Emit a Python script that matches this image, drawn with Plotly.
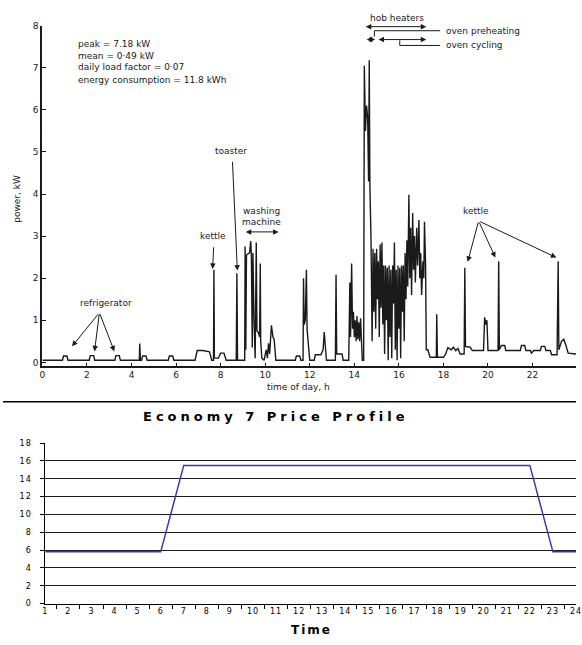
import plotly.graph_objects as go

# ---------------- data: domestic load profile (top) ----------------
load_hours = [0.0, 0.9, 0.95, 1.1, 1.15, 2.1, 2.15, 2.3, 2.35, 3.25, 3.3, 3.45, 3.5,
              4.35, 4.37, 4.4, 4.45, 4.5, 4.65, 4.7, 5.65, 5.7, 5.85, 5.9,
              6.85, 6.95, 7.2, 7.5, 7.6, 7.68, 7.7, 7.72, 7.9, 8.0, 8.15, 8.25, 8.7, 8.73, 8.76,
              9.0, 9.08, 9.1, 9.13, 9.16, 9.3, 9.35, 9.38, 9.42, 9.45, 9.5, 9.55, 9.6, 9.63,
              9.7, 9.75, 9.78, 9.8, 9.85, 9.95, 10.05, 10.1, 10.15, 10.2, 10.28, 10.35, 10.4, 10.48,
              11.35, 11.4, 11.55, 11.6, 11.7, 11.72, 11.75, 11.8, 11.85, 11.88, 11.95, 12.0,
              12.2, 12.25, 12.5, 12.6, 12.65, 12.7, 12.75, 13.15, 13.18, 13.21, 13.45, 13.5,
              13.75, 13.8, 13.83, 13.88, 13.92, 13.96, 14.0, 14.04, 14.08, 14.12, 14.16, 14.2,
              14.24, 14.28, 14.32, 14.36, 14.42, 14.45, 14.5, 14.55, 14.6, 14.64, 14.67, 14.7, 14.75,
              14.8, 14.84, 14.88, 14.92, 14.96, 15.0, 15.04, 15.08, 15.12, 15.16, 15.2, 15.24,
              15.28, 15.32, 15.36, 15.4, 15.44, 15.48, 15.52, 15.56, 15.6, 15.64, 15.68, 15.72,
              15.76, 15.8, 15.84, 15.88, 15.92, 15.96, 16.0, 16.04, 16.08, 16.12, 16.16, 16.2,
              16.24, 16.28, 16.32, 16.36, 16.4, 16.45, 16.49, 16.53, 16.57, 16.62, 16.66, 16.7,
              16.74, 16.8, 16.84, 16.9, 16.94, 16.98, 17.02, 17.08, 17.12, 17.15, 17.2, 17.23,
              17.3, 17.4, 17.68, 17.7, 17.73, 18.0, 18.1, 18.2, 18.35, 18.45, 18.55, 18.65, 18.75,
              18.93, 18.96, 18.99, 19.2, 19.3, 19.8, 19.85, 19.9, 19.95, 20.0, 20.45, 20.48, 20.51,
              20.6, 20.75, 20.8, 21.45, 21.5, 21.65, 21.7, 21.9, 21.95, 22.05, 22.35, 22.4, 22.55,
              22.6, 22.8, 22.85, 23.1, 23.15, 23.18, 23.3, 23.4, 23.5, 23.6, 23.95]
load_kw = [0.05, 0.05, 0.15, 0.15, 0.05, 0.05, 0.16, 0.16, 0.05, 0.05, 0.16, 0.16, 0.05,
           0.05, 0.45, 0.05, 0.05, 0.15, 0.15, 0.05, 0.05, 0.15, 0.15, 0.05,
           0.05, 0.28, 0.28, 0.25, 0.05, 0.05, 2.2, 0.1, 0.1, 0.22, 0.22, 0.05, 0.05, 2.12, 0.05,
           0.05, 0.05, 2.75, 0.3, 2.55, 2.6, 2.88, 2.55, 0.35, 2.6, 1.0, 0.1, 2.85, 0.75,
           0.7, 0.6, 2.35, 0.5, 0.1, 0.05, 0.3, 0.1, 0.45, 0.2, 0.88, 0.6, 0.55, 0.05,
           0.05, 0.15, 0.15, 0.05, 0.05, 2.0, 0.9, 1.0, 2.2, 0.8, 0.35, 0.05,
           0.05, 0.18, 0.18, 0.3, 0.72, 0.3, 0.05, 0.05, 2.08, 0.2, 0.2, 0.05,
           0.05, 1.9, 0.6, 2.35, 0.8, 1.2, 0.6, 1.0, 0.5, 1.1, 0.55, 0.95,
           0.5, 1.05, 0.6, 0.05, 0.05, 7.05, 5.5, 6.1, 5.8, 4.3, 7.18, 4.2, 2.9,
           0.5, 2.7, 1.2, 2.6, 0.8, 2.7, 1.5, 2.4, 0.6, 2.8, 1.3, 2.85,
           0.9, 2.3, 0.2, 2.3, 1.0, 2.25, 0.05, 2.3, 0.6, 2.2, 0.1, 2.3,
           1.4, 2.85, 0.3, 2.2, 0.05, 2.3, 0.8, 2.25, 0.1, 2.3, 1.2, 2.3,
           0.5, 2.6, 1.5, 2.9, 1.8, 3.98, 2.0, 3.2, 1.6, 3.55, 2.2, 3.0,
           1.9, 3.2, 2.3, 3.38, 2.0, 2.6, 1.6, 2.4, 2.0, 3.34, 2.3, 0.3,
           0.3, 0.12, 0.12, 1.14, 0.12, 0.12, 0.2, 0.35, 0.3, 0.36, 0.28, 0.33, 0.2,
           0.2, 2.25, 0.38, 0.36, 0.28, 0.28, 1.07, 0.9, 1.0, 0.28, 0.28, 2.4, 0.3,
           0.4, 0.4, 0.28, 0.28, 0.4, 0.4, 0.28, 0.28, 0.22, 0.28, 0.28, 0.38, 0.38,
           0.28, 0.28, 0.18, 0.18, 2.4, 0.3, 0.5, 0.55, 0.4, 0.22, 0.2]
load_ticks = [0, 2, 4, 6, 8, 10, 12, 14, 16, 18, 20, 22]
power_ticks = [0, 1, 2, 3, 4, 5, 6, 7, 8]

# ---------------- data: Economy 7 price profile (bottom) ----------------
price_hours = [str(h) for h in range(1, 25)]
price_values = [5.8, 5.8, 5.8, 5.8, 5.8, 5.8,
                15.5, 15.5, 15.5, 15.5, 15.5, 15.5, 15.5, 15.5, 15.5, 15.5, 15.5,
                15.5, 15.5, 15.5, 15.5, 15.5,
                5.8, 5.8]
price_ticks = [0, 2, 4, 6, 8, 10, 12, 14, 16, 18]

W, H = 582, 645
def px(x):
    return x / W
def py(y):
    return 1 - y / H

fig = go.Figure()
fig.add_trace(go.Scatter(x=load_hours, y=load_kw, mode="lines",
                         line=dict(color="#1a1a1a", width=1.4),
                         xaxis="x", yaxis="y", showlegend=False, hoverinfo="skip"))
fig.add_trace(go.Scatter(x=price_hours, y=price_values, mode="lines",
                         line=dict(color="#3a3aa2", width=1.5),
                         xaxis="x2", yaxis="y2", showlegend=False))

scan_font = dict(family="DejaVu Sans", size=9, color="#1a1a1a")
xl_font = dict(family="DejaVu Sans", size=8, color="#000000")

wide = lambda s, sp: f'<span style="letter-spacing:{sp}px">{s}</span>'

fig.update_layout(
    width=W, height=H, margin=dict(l=0, r=0, t=0, b=0),
    paper_bgcolor="white", plot_bgcolor="white",
    xaxis=dict(domain=[px(40), 1], range=[0, 23.95], anchor="y",
               tickvals=load_ticks, ticks="inside", ticklen=3, tickcolor="#1a1a1a",
               showline=True, linecolor="#1a1a1a", linewidth=1.5,
               showgrid=False, zeroline=False, tickfont=scan_font),
    yaxis=dict(domain=[py(366.4), py(21)], range=[-0.08, 8], anchor="x",
               tickvals=power_ticks, ticks="inside", ticklen=4, tickcolor="#1a1a1a",
               showline=True, linecolor="#1a1a1a", linewidth=2,
               showgrid=False, zeroline=False, tickfont=scan_font),
    xaxis2=dict(domain=[px(43), 1], type="category", anchor="y2",
                tickvals=price_hours, ticktext=[wide(h, 1) for h in price_hours],
                tickson="boundaries", ticks="outside", ticklen=4, tickcolor="#000",
                showline=True, linecolor="#000", linewidth=1,
                showgrid=False, zeroline=False,
                tickfont=dict(family="DejaVu Sans", size=8, color="#000")),
    yaxis2=dict(domain=[py(608), py(445)], range=[0, 18], anchor="x2",
                tickvals=price_ticks, ticktext=[wide(str(v), 1) for v in price_ticks],
                ticks="outside", ticklen=4, tickcolor="#000",
                showline=True, linecolor="#000", linewidth=1,
                showgrid=True, gridcolor="#1a1a1a", gridwidth=1,
                zeroline=False, ticklabelstandoff=7, tickfont=xl_font),
)

ann = []
def text(x, y, s, xanchor="center", ref="x", yref="y", font=scan_font, angle=0):
    ann.append(dict(x=x, y=y, xref=ref, yref=yref, text=s, showarrow=False,
                    xanchor=xanchor, yanchor="middle", font=font, textangle=angle))

def arrow(x, y, ax, ay, both=False):
    ann.append(dict(x=x, y=y, ax=ax, ay=ay, xref="x", yref="y", axref="x", ayref="y",
                    text="", showarrow=True, arrowhead=2, arrowsize=1.1, arrowwidth=1,
                    arrowcolor="#1a1a1a", arrowside="end+start" if both else "end",
                    standoff=0, startstandoff=0))

# statistics block
text(1.5, 7.57, "peak = 7.18 kW", xanchor="left")
text(1.5, 7.29, "mean = 0·49 kW", xanchor="left")
text(1.5, 7.01, "daily load factor = 0·07", xanchor="left")
text(1.5, 6.72, "energy consumption = 11.8 kWh", xanchor="left")

# appliance labels
text(8.48, 5.02, "toaster")
arrow(8.75, 2.18, 8.53, 4.80)
text(7.64, 3.0, "kettle")
arrow(7.64, 2.22, 7.69, 2.77)
text(9.85, 3.6, "washing")
text(9.85, 3.34, "machine")
arrow(10.6, 3.10, 9.06, 3.10, both=True)
text(2.87, 1.40, "refrigerator")
arrow(1.33, 0.38, 2.56, 1.18)
arrow(2.34, 0.26, 2.56, 1.18)
arrow(3.23, 0.26, 2.56, 1.18)
# hob heaters (above the axis range -> paper y)
text(15.9, py(13), "hob heaters", ref="x", yref="paper")
ann.append(dict(x=17.23, y=py(22), xref="x", yref="paper", ax=14.45, ay=0,
                axref="x", ayref="pixel", text="", showarrow=True, arrowhead=2,
                arrowsize=1.1, arrowwidth=1, arrowcolor="#1a1a1a", arrowside="end+start",
                standoff=0, startstandoff=0))
arrow(14.93, 7.67, 14.49, 7.67, both=True)
arrow(17.23, 7.67, 15.02, 7.67, both=True)
text(18.03, 7.88, "oven preheating", xanchor="left")
text(18.03, 7.53, "oven cycling", xanchor="left")
text(19.44, 3.60, "kettle")
arrow(19.09, 2.39, 19.58, 3.36)
arrow(20.33, 2.49, 19.58, 3.36)
arrow(23.07, 2.49, 19.58, 3.36)

# axis titles of the scanned chart
text(px(300), py(388), "time of day, h", ref="paper", yref="paper")
text(px(14), py(197), "power, kW", ref="paper", yref="paper", angle=-90)

# price chart titles
text(px(277), py(418), "<b>" + wide("Economy 7 Price Profile", 4) + "</b>",
     ref="paper", yref="paper", font=dict(family="DejaVu Sans", size=13, color="#000"))
text(px(313), py(635), "<b>" + wide("Time", 2) + "</b>",
     ref="paper", yref="paper", font=dict(family="DejaVu Sans", size=12, color="#000"))

fig.update_layout(annotations=ann)

fig.update_layout(shapes=[
    dict(type="line", xref="paper", yref="paper", x0=0, x1=1, y0=py(403), y1=py(403),
         line=dict(color="#000", width=1.5)),
    dict(type="path", xref="x", yref="y", path="M 17.85,7.88 L 14.9,7.88 L 14.9,7.74",
         line=dict(color="#1a1a1a", width=1)),
    dict(type="path", xref="x", yref="y", path="M 17.85,7.53 L 16.04,7.53 L 16.04,7.65",
         line=dict(color="#1a1a1a", width=1)),
])

fig.write_html("out.html", config={"displayModeBar": False},
               post_script="document.body.style.margin='0';document.body.style.overflow='hidden';")
